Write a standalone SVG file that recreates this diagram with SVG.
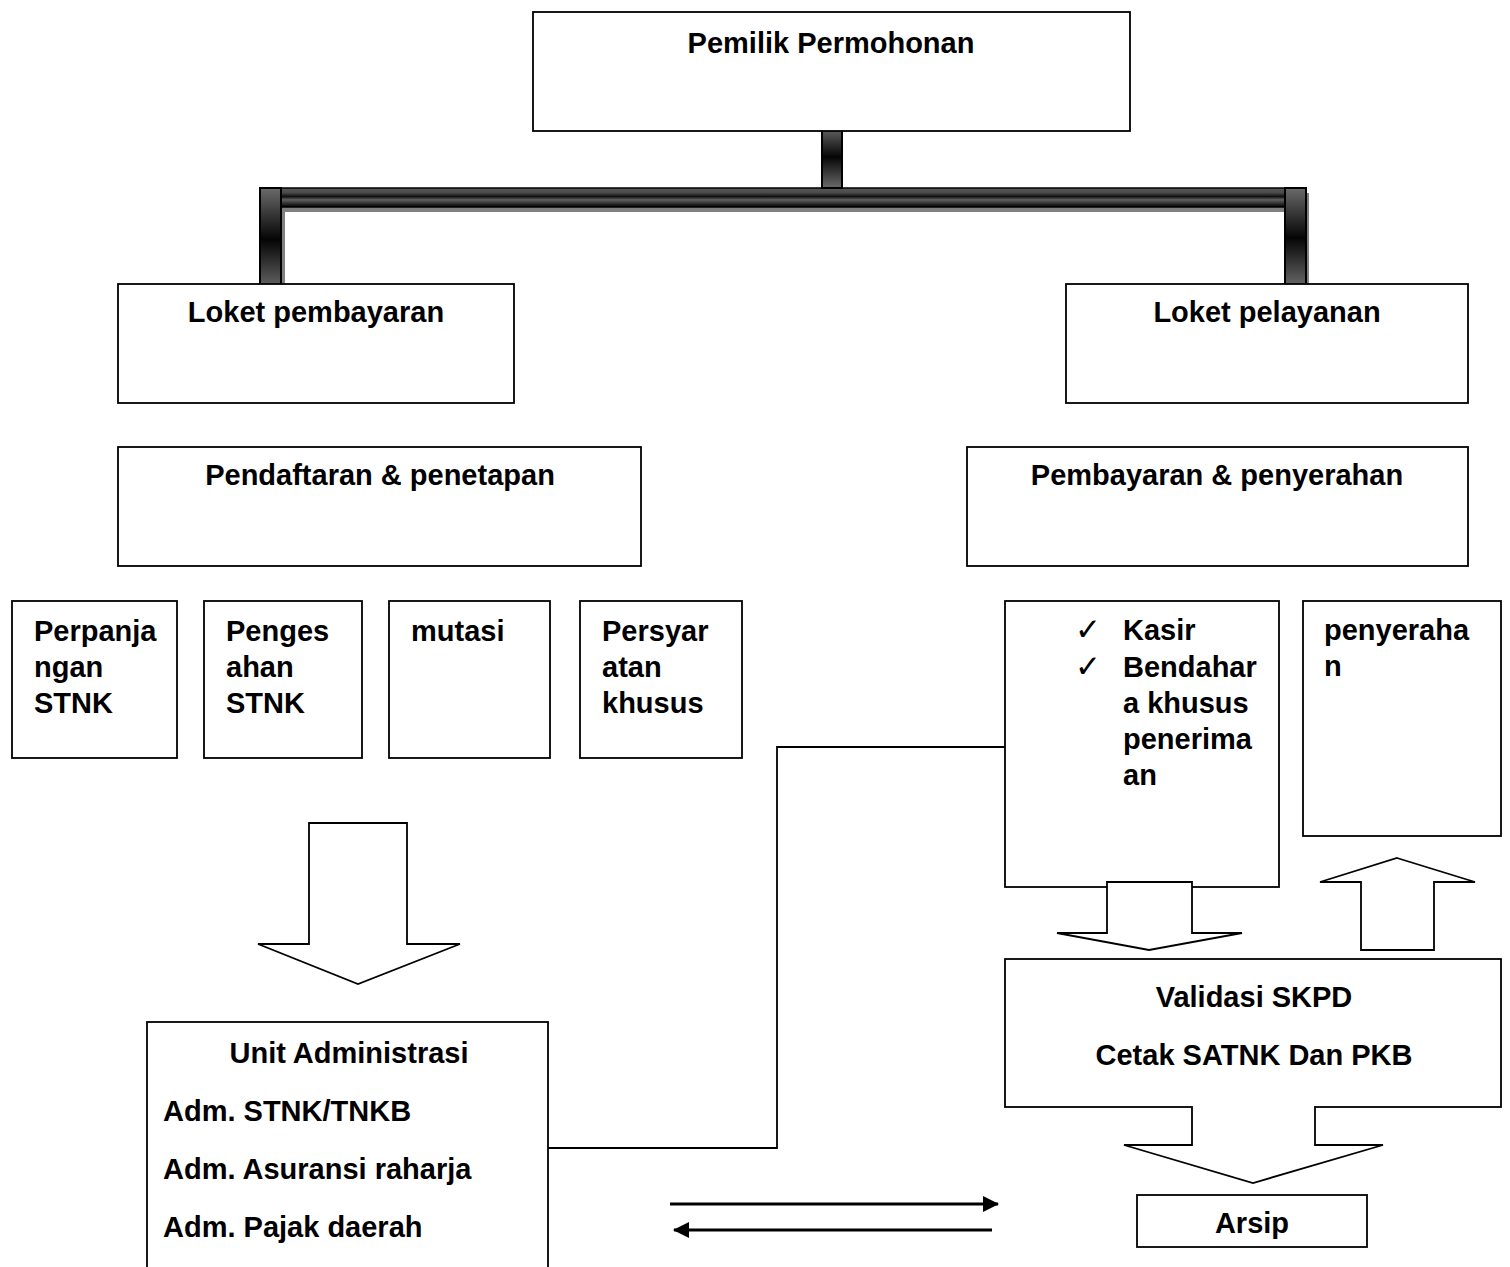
<svg xmlns="http://www.w3.org/2000/svg" width="1510" height="1267" viewBox="0 0 1510 1267">
<style>
.box{fill:#fff;stroke:#000;stroke-width:1.8}
.t{font-family:"Liberation Sans",Arial,sans-serif;font-weight:bold;font-size:29px;fill:#000}
.c{text-anchor:middle}
.ck{font-family:"DejaVu Sans",sans-serif;font-size:31px;fill:#000}
.ln{fill:none;stroke:#000;stroke-width:1.8}
.ar{fill:none;stroke:#000;stroke-width:3}
.blk{fill:#fff;stroke:#000;stroke-width:1.8;stroke-linejoin:miter}
.sh{fill:#808080}
.vb{fill:url(#gv);stroke:#000;stroke-width:2}
.hb{fill:url(#gh);stroke:#000;stroke-width:1.5}
</style>
<defs>
<linearGradient id="gv" x1="0" y1="0" x2="0" y2="1">
<stop offset="0" stop-color="#6a6a6a"/>
<stop offset="0.5" stop-color="#050505"/>
<stop offset="1" stop-color="#6a6a6a"/>
</linearGradient>
<linearGradient id="gh" x1="0" y1="0" x2="0" y2="1">
<stop offset="0" stop-color="#5a5a5a"/>
<stop offset="0.25" stop-color="#4a4a4a"/>
<stop offset="0.45" stop-color="#101010"/>
<stop offset="0.62" stop-color="#606060"/>
<stop offset="0.8" stop-color="#333"/>
<stop offset="1" stop-color="#000"/>
</linearGradient>
<marker id="ah" viewBox="0 0 16 16" refX="15" refY="8" markerWidth="16" markerHeight="16" markerUnits="userSpaceOnUse" orient="auto">
<path d="M0,0 L16,8 L0,16 z" fill="#000"/>
</marker>
</defs>

<g id="connectors">
<rect class="sh" x="263" y="193" width="1046" height="19"/>
<rect class="sh" x="264" y="193" width="21" height="104"/>
<rect class="sh" x="1288" y="193" width="21" height="100"/>
<rect class="hb" x="262" y="188" width="1042" height="19"/>
<rect class="vb" x="822" y="126" width="20" height="62"/>
<rect class="vb" x="260" y="188" width="21" height="103"/>
<rect class="vb" x="1285" y="188" width="21" height="100"/>
<polyline class="ln" points="548,1148 777,1148 777,747 1005,747"/>
<line class="ar" x1="670" y1="1204" x2="998" y2="1204" marker-end="url(#ah)"/>
<line class="ar" x1="992" y1="1230" x2="674" y2="1230" marker-end="url(#ah)"/>
</g>

<g id="n-pemilik">
<rect class="box" x="533" y="12" width="597" height="119"/>
<text class="t c" x="831" y="53">Pemilik Permohonan</text>
</g>
<g id="n-loket-pembayaran">
<rect class="box" x="118" y="284" width="396" height="119"/>
<text class="t c" x="316" y="322">Loket pembayaran</text>
</g>
<g id="n-loket-pelayanan">
<rect class="box" x="1066" y="284" width="402" height="119"/>
<text class="t c" x="1267" y="322">Loket pelayanan</text>
</g>
<g id="n-pendaftaran">
<rect class="box" x="118" y="447" width="523" height="119"/>
<text class="t c" x="380" y="485">Pendaftaran &amp; penetapan</text>
</g>
<g id="n-pembayaran">
<rect class="box" x="967" y="447" width="501" height="119"/>
<text class="t c" x="1217" y="485">Pembayaran &amp; penyerahan</text>
</g>
<g id="n-perpanjangan">
<rect class="box" x="12" y="601" width="165" height="157"/>
<text class="t" x="34" y="641">Perpanja</text>
<text class="t" x="34" y="677">ngan</text>
<text class="t" x="34" y="713">STNK</text>
</g>
<g id="n-pengesahan">
<rect class="box" x="204" y="601" width="158" height="157"/>
<text class="t" x="226" y="641">Penges</text>
<text class="t" x="226" y="677">ahan</text>
<text class="t" x="226" y="713">STNK</text>
</g>
<g id="n-mutasi">
<rect class="box" x="389" y="601" width="161" height="157"/>
<text class="t" x="411" y="641">mutasi</text>
</g>
<g id="n-persyaratan">
<rect class="box" x="580" y="601" width="162" height="157"/>
<text class="t" x="602" y="641">Persyar</text>
<text class="t" x="602" y="677">atan</text>
<text class="t" x="602" y="713">khusus</text>
</g>
<g id="n-kasir">
<rect class="box" x="1005" y="601" width="274" height="286"/>
<text class="ck" x="1075" y="640">✓</text>
<text class="ck" x="1075" y="677">✓</text>
<text class="t" x="1123" y="640">Kasir</text>
<text class="t" x="1123" y="677">Bendahar</text>
<text class="t" x="1123" y="713">a khusus</text>
<text class="t" x="1123" y="749">penerima</text>
<text class="t" x="1123" y="785">an</text>
</g>
<g id="n-penyerahan">
<rect class="box" x="1303" y="601" width="198" height="235"/>
<text class="t" x="1324" y="640">penyeraha</text>
<text class="t" x="1324" y="676">n</text>
</g>
<g id="n-validasi">
<rect class="box" x="1005" y="959" width="496" height="148"/>
<text class="t c" x="1254" y="1007">Validasi SKPD</text>
<text class="t c" x="1254" y="1065">Cetak SATNK Dan PKB</text>
</g>
<g id="n-arsip">
<rect class="box" x="1137" y="1195" width="230" height="52"/>
<text class="t c" x="1252" y="1233">Arsip</text>
</g>
<g id="n-unit-admin">
<rect class="box" x="147" y="1022" width="401" height="260"/>
<text class="t c" x="349" y="1063">Unit Administrasi</text>
<text class="t" x="163" y="1121">Adm. STNK/TNKB</text>
<text class="t" x="163" y="1179">Adm. Asuransi raharja</text>
<text class="t" x="163" y="1237">Adm. Pajak daerah</text>
</g>

<g id="block-arrows">
<polygon class="blk" points="309,823 407,823 407,944 460,944 358,984 258,944 309,944"/>
<polygon class="blk" points="1107,882 1192,882 1192,933 1242,933 1149,950 1057,933 1107,933"/>
<polygon class="blk" points="1397,858 1475,882 1434,882 1434,950 1361,950 1361,882 1320,882"/>
<polygon points="1193,1104 1314,1104 1314,1146 1192,1146" fill="#fff"/>
<polyline class="blk" points="1192,1107 1192,1145 1124,1145 1253,1183 1383,1145 1315,1145 1315,1107"/>
</g>
</svg>
